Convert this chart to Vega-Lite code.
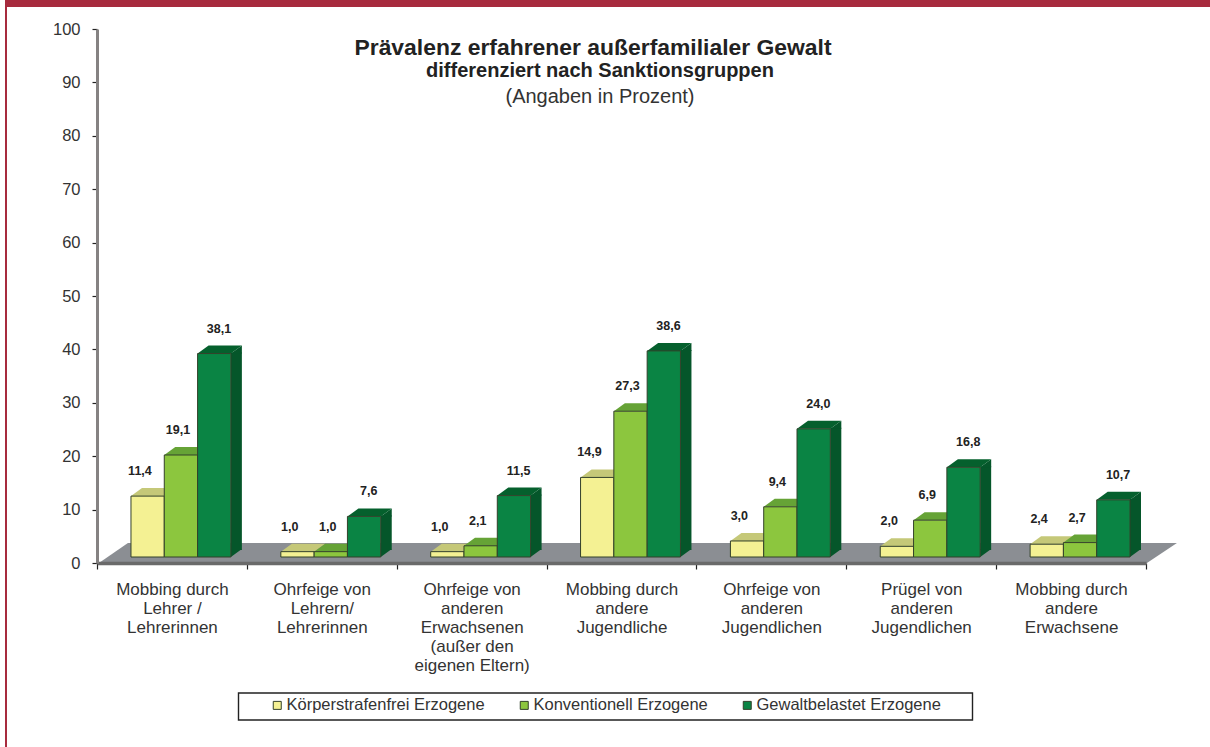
{
"$schema":"https://vega.github.io/schema/vega-lite/v6.json",
"width":1210,"height":747,"padding":0,"autosize":"none","background":"white",
"config":{"view":{"stroke":null},"font":"Liberation Sans"},
"datasets":{"rows":[
{"k":"Mobbing durch|Lehrer /|Lehrerinnen","g":"Körperstrafenfrei Erzogene","v":11.4,"t":"11,4"},
{"k":"Mobbing durch|Lehrer /|Lehrerinnen","g":"Konventionell Erzogene","v":19.1,"t":"19,1"},
{"k":"Mobbing durch|Lehrer /|Lehrerinnen","g":"Gewaltbelastet Erzogene","v":38.1,"t":"38,1"},
{"k":"Ohrfeige von|Lehrern/|Lehrerinnen","g":"Körperstrafenfrei Erzogene","v":1.0,"t":"1,0"},
{"k":"Ohrfeige von|Lehrern/|Lehrerinnen","g":"Konventionell Erzogene","v":1.0,"t":"1,0"},
{"k":"Ohrfeige von|Lehrern/|Lehrerinnen","g":"Gewaltbelastet Erzogene","v":7.6,"t":"7,6"},
{"k":"Ohrfeige von|anderen|Erwachsenen|(außer den|eigenen Eltern)","g":"Körperstrafenfrei Erzogene","v":1.0,"t":"1,0"},
{"k":"Ohrfeige von|anderen|Erwachsenen|(außer den|eigenen Eltern)","g":"Konventionell Erzogene","v":2.1,"t":"2,1"},
{"k":"Ohrfeige von|anderen|Erwachsenen|(außer den|eigenen Eltern)","g":"Gewaltbelastet Erzogene","v":11.5,"t":"11,5"},
{"k":"Mobbing durch|andere|Jugendliche","g":"Körperstrafenfrei Erzogene","v":14.9,"t":"14,9"},
{"k":"Mobbing durch|andere|Jugendliche","g":"Konventionell Erzogene","v":27.3,"t":"27,3"},
{"k":"Mobbing durch|andere|Jugendliche","g":"Gewaltbelastet Erzogene","v":38.6,"t":"38,6"},
{"k":"Ohrfeige von|anderen|Jugendlichen","g":"Körperstrafenfrei Erzogene","v":3.0,"t":"3,0"},
{"k":"Ohrfeige von|anderen|Jugendlichen","g":"Konventionell Erzogene","v":9.4,"t":"9,4"},
{"k":"Ohrfeige von|anderen|Jugendlichen","g":"Gewaltbelastet Erzogene","v":24.0,"t":"24,0"},
{"k":"Prügel von|anderen|Jugendlichen","g":"Körperstrafenfrei Erzogene","v":2.0,"t":"2,0"},
{"k":"Prügel von|anderen|Jugendlichen","g":"Konventionell Erzogene","v":6.9,"t":"6,9"},
{"k":"Prügel von|anderen|Jugendlichen","g":"Gewaltbelastet Erzogene","v":16.8,"t":"16,8"},
{"k":"Mobbing durch|andere|Erwachsene","g":"Körperstrafenfrei Erzogene","v":2.4,"t":"2,4"},
{"k":"Mobbing durch|andere|Erwachsene","g":"Konventionell Erzogene","v":2.7,"t":"2,7"},
{"k":"Mobbing durch|andere|Erwachsene","g":"Gewaltbelastet Erzogene","v":10.7,"t":"10,7"}
]},
"data":{"name":"rows"},
"encoding":{
"x":{"field":"k","type":"nominal",
 "scale":{"domain":["Mobbing durch|Lehrer /|Lehrerinnen","Ohrfeige von|Lehrern/|Lehrerinnen","Ohrfeige von|anderen|Erwachsenen|(außer den|eigenen Eltern)","Mobbing durch|andere|Jugendliche","Ohrfeige von|anderen|Jugendlichen","Prügel von|anderen|Jugendlichen","Mobbing durch|andere|Erwachsene"],"range":[97,1146],"paddingInner":0,"paddingOuter":0},
 "axis":{"title":null,"orient":"bottom","offset":-184,"labelAngle":0,"labelFontSize":17,"labelColor":"#333","labelLineHeight":19,"labelPadding":12,"labelBaseline":"top","labelLimit":200,
  "labelExpr":"isValid(datum.value) ? split(datum.value,'|') : ''","tickBand":"extent","tickColor":"#222","tickSize":6,"tickWidth":1.2,"domainColor":"#6a6a6a","domainWidth":3.5,"zindex":1}},
"y":{"field":"v","type":"quantitative",
 "scale":{"domain":[0,100],"range":[563,29],"nice":false},
 "axis":{"title":null,"offset":-97,"values":[0,10,20,30,40,50,60,70,80,90,100],"labelFontSize":16.5,"labelColor":"#333","labelPadding":12,"tickColor":"#222","tickSize":5,"tickWidth":1.2,"domainColor":"#858282","domainWidth":3,"grid":false,"zindex":1}}
},
"layer":[
{"data":{"values":[{"k":"Mobbing durch|Lehrer /|Lehrerinnen","v":100}]},
 "mark":{"type":"point","filled":true,"opacity":1,"size":4,"fill":"#a72b3e","strokeWidth":0,
  "shape":"M-166.93,-29L1038.07,-29L1038.07,-22L-164.93,-22L-164.93,718L-166.93,718Z"}},
{"data":{"values":[{"k":"Mobbing durch|Lehrer /|Lehrerinnen","v":0}]},
 "mark":{"type":"point","filled":true,"opacity":1,"size":4,"fill":"#8b8e93","strokeWidth":0,
  "shape":"M-73,0L-44,-20L1005,-20L975,0Z"}},
{"data":{"values":[{"k":"Mobbing durch|andere|Jugendliche","v":0}]},
 "mark":{"type":"point","filled":false,"opacity":1,"size":4,"stroke":"#222","strokeWidth":1.4,
  "shape":"M-383,130L351,130L351,157L-383,157Z"}},

{"transform":[{"filter":"datum.g==='Gewaltbelastet Erzogene'"}],
 "mark":{"type":"bar","width":11,"xOffset":64.45,"yOffset":-7,"y2Offset":-13,"fill":"#05562a"},
 "encoding":{"y2":{"datum":0}}},
{"transform":[{"filter":"datum.g==='Gewaltbelastet Erzogene'"}],
 "mark":{"type":"point","filled":true,"opacity":1,"size":4,"xOffset":42.3,"yOffset":-6,"fill":"#05562a","strokeWidth":0,
  "shape":"M16.65,0L27.65,-8L27.65,0Z"}},
{"transform":[{"filter":"datum.g==='Gewaltbelastet Erzogene'"}],
 "mark":{"type":"point","filled":true,"opacity":1,"size":4,"xOffset":42.3,"yOffset":-6,"fill":"#05562a","strokeWidth":0,
  "shape":"M16.65,0L16.65,-8L27.65,-8Z"},
 "encoding":{"y":{"datum":0}}},

{"transform":[{"filter":"datum.g==='Körperstrafenfrei Erzogene'"}],
 "mark":{"type":"point","filled":true,"opacity":1,"size":4,"xOffset":-24.3,"yOffset":-6,"strokeWidth":0,"fill":"#c5c878",
  "shape":"M-16.65,0L16.65,0L27.65,-8L-5.65,-8Z"}},
{"transform":[{"filter":"datum.g==='Konventionell Erzogene'"}],
 "mark":{"type":"point","filled":true,"opacity":1,"size":4,"xOffset":9,"yOffset":-6,"strokeWidth":0,"fill":"#66a336",
  "shape":"M-16.65,0L16.65,0L27.65,-8L-5.65,-8Z"}},
{"transform":[{"filter":"datum.g==='Gewaltbelastet Erzogene'"}],
 "mark":{"type":"point","filled":true,"opacity":1,"size":4,"xOffset":42.3,"yOffset":-6,"strokeWidth":0,"fill":"#05602d",
  "shape":"M-16.65,0L16.65,0L27.65,-8L-5.65,-8Z"}},

{"transform":[{"filter":"datum.g==='Körperstrafenfrei Erzogene'"}],
 "mark":{"type":"bar","width":33.3,"xOffset":-24.3,"yOffset":-6,"y2Offset":-6,"stroke":"#33402a","strokeWidth":1},
 "encoding":{"y2":{"datum":0},"fill":{"field":"g","type":"nominal",
  "scale":{"domain":["Körperstrafenfrei Erzogene","Konventionell Erzogene","Gewaltbelastet Erzogene"],"range":["#f4f193","#8cc63e","#0a8444"]},
  "legend":{"title":null,"orient":"none","legendX":269,"legendY":697,"direction":"horizontal","columns":3,"padding":0,"symbolType":"square","symbolSize":64,"symbolStrokeColor":"#33402a","symbolStrokeWidth":1,"labelFontSize":16.5,"labelColor":"#333","labelOffset":1,"columnPadding":31,"labelLimit":300}}}},
{"transform":[{"filter":"datum.g==='Konventionell Erzogene'"}],
 "mark":{"type":"bar","width":33.3,"xOffset":9,"yOffset":-6,"y2Offset":-6,"stroke":"#33402a","strokeWidth":1},
 "encoding":{"y2":{"datum":0},"fill":{"field":"g","type":"nominal"}}},
{"transform":[{"filter":"datum.g==='Gewaltbelastet Erzogene'"}],
 "mark":{"type":"bar","width":33.3,"xOffset":42.3,"yOffset":-6,"y2Offset":-6,"stroke":"#33402a","strokeWidth":1},
 "encoding":{"y2":{"datum":0},"fill":{"field":"g","type":"nominal"}}},

{"transform":[{"filter":"datum.g==='Körperstrafenfrei Erzogene'"}],
 "mark":{"type":"text","fontSize":12.5,"fontWeight":"bold","color":"#222","dx":-32,"yOffset":-31},
 "encoding":{"text":{"field":"t","type":"nominal"}}},
{"transform":[{"filter":"datum.g==='Konventionell Erzogene'"}],
 "mark":{"type":"text","fontSize":12.5,"fontWeight":"bold","color":"#222","dx":6,"yOffset":-31},
 "encoding":{"text":{"field":"t","type":"nominal"}}},
{"transform":[{"filter":"datum.g==='Gewaltbelastet Erzogene'"}],
 "mark":{"type":"text","fontSize":12.5,"fontWeight":"bold","color":"#222","dx":47,"yOffset":-31},
 "encoding":{"text":{"field":"t","type":"nominal"}}},

{"data":{"values":[
 {"k":"Mobbing durch|andere|Jugendliche","v":96.4,"t":"Prävalenz erfahrener außerfamilialer Gewalt"}]},
 "mark":{"type":"text","fontSize":22.9,"fontWeight":"bold","color":"#222","dx":-28.5},
 "encoding":{"text":{"field":"t","type":"nominal"}}},
{"data":{"values":[
 {"k":"Mobbing durch|andere|Jugendliche","v":92.1,"t":"differenziert nach Sanktionsgruppen"}]},
 "mark":{"type":"text","fontSize":20,"fontWeight":"bold","color":"#222","dx":-21.5},
 "encoding":{"text":{"field":"t","type":"nominal"}}},
{"data":{"values":[
 {"k":"Mobbing durch|andere|Jugendliche","v":87.3,"t":"(Angaben in Prozent)"}]},
 "mark":{"type":"text","fontSize":20,"color":"#333","dx":-21.5},
 "encoding":{"text":{"field":"t","type":"nominal"}}}
]
}
